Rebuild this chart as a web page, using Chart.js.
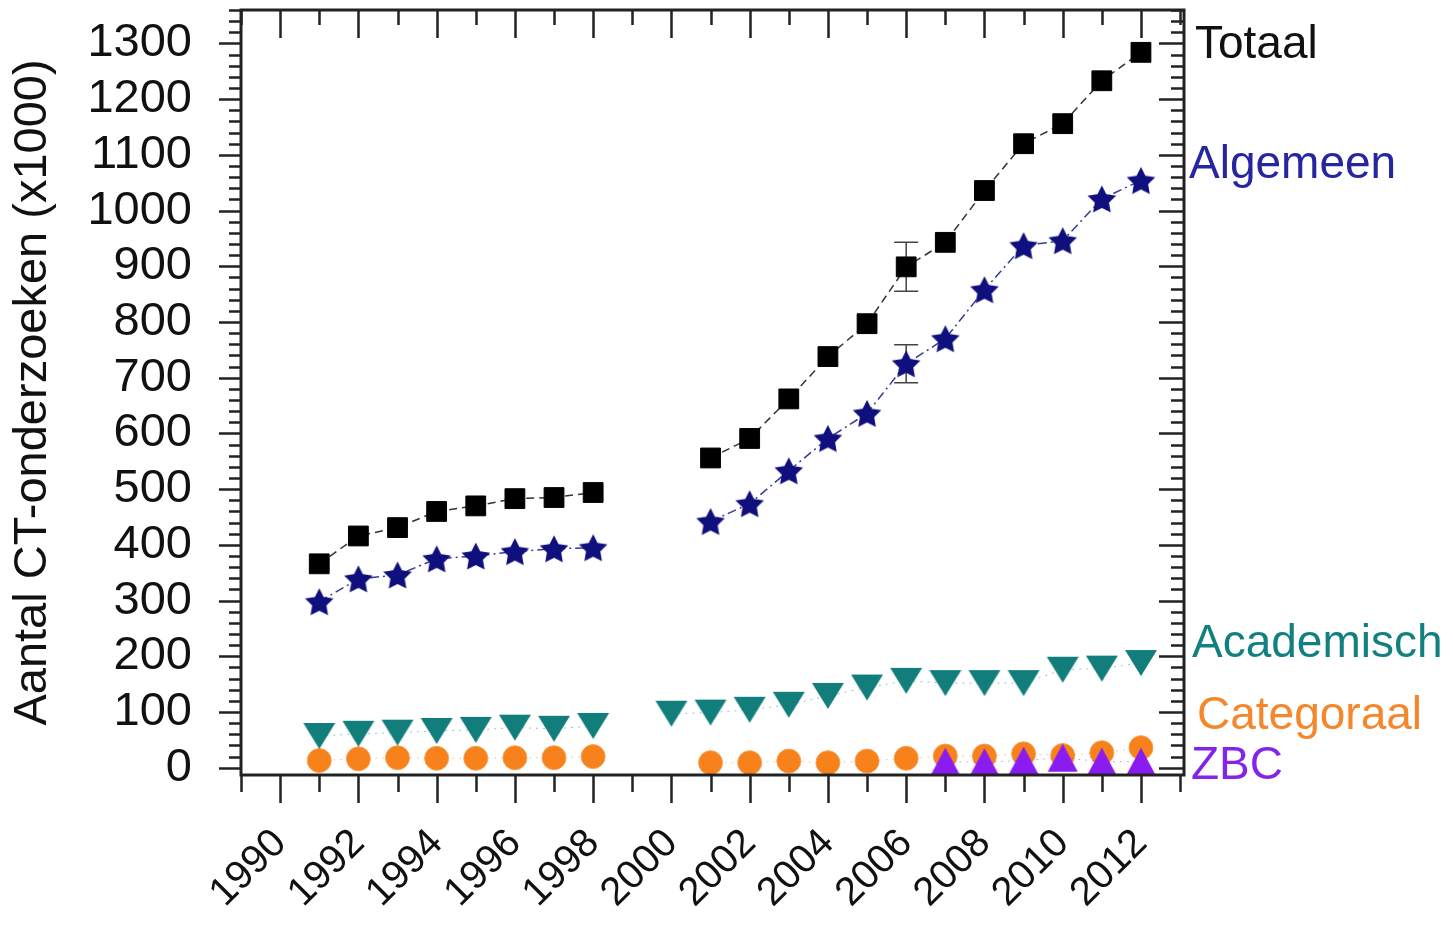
<!DOCTYPE html>
<html>
<head>
<meta charset="utf-8">
<script src="https://cdn.jsdelivr.net/npm/chart.js@4.4.0/dist/chart.umd.min.js"></script>
<style>
  body { margin: 0; background: #fff; }
  #wrap { width: 1453px; height: 929px; }
</style>
</head>
<body>
<div id="wrap"><canvas id="grafico" width="1453" height="929"></canvas></div>
<script>
// jaren 1991 t/m 2012
var jaren      = [1991, 1992, 1993, 1994, 1995, 1996, 1997, 1998, 1999, 2000, 2001, 2002, 2003, 2004, 2005, 2006, 2007, 2008, 2009, 2010, 2011, 2012];
var totaal     = [366, 416, 431, 460, 470, 483, 485, 494, null, null, 556, 591, 662, 738, 797, 899, 943, 1036, 1120, 1156, 1233, 1284];
var algemeen   = [298, 339, 346, 375, 380, 388, 393, 395, null, null, 442, 474, 533, 591, 636, 725, 770, 858, 937, 946, 1021, 1054];
var academisch = [57, 61, 63, 66, 68, 72, 70, 75, null, 97, 99, 104, 113, 129, 144, 156, 152, 152, 152, 176, 178, 188];
var categoraal = [13, 16, 18, 17, 17, 18, 18, 20, null, null, 9, 9, 12, 9, 12, 17, 21, 21, 25, 22, 27, 36];
var zbc        = [null, null, null, null, null, null, null, null, null, null, null, null, null, null, null, null, 11, 10, 13, 18, 11, 11];
// foutmarges (alleen 2006)
var foutTotaal   = [null, null, null, null, null, null, null, null, null, null, null, null, null, null, null, 44, null, null, null, null, null, null];
var foutAlgemeen = [null, null, null, null, null, null, null, null, null, null, null, null, null, null, null, 34, null, null, null, null, null, null];

var jaarTicks = [1990, 1992, 1994, 1996, 1998, 2000, 2002, 2004, 2006, 2008, 2010, 2012];
var yTicks = [0, 100, 200, 300, 400, 500, 600, 700, 800, 900, 1000, 1100, 1200, 1300];

var FONT = 'Arial, "Liberation Sans", sans-serif';

function punten(waarden) {
  return jaren.map(function(j, i) { return { x: j, y: waarden[i] }; });
}

// markers als canvas
function maakSter(kleur, r) {
  var s = Math.ceil(r * 2 + 2);
  var c = document.createElement('canvas');
  c.width = s; c.height = s;
  var ctx = c.getContext('2d');
  var cy = s / 2 + r * 0.095;
  ctx.fillStyle = kleur;
  ctx.beginPath();
  for (var i = 0; i < 10; i++) {
    var rad = i % 2 ? r * 0.5 : r;
    var a = -Math.PI / 2 + i * Math.PI / 5;
    ctx.lineTo(s / 2 + rad * Math.cos(a), cy + rad * Math.sin(a));
  }
  ctx.closePath();
  ctx.fill();
  return c;
}

function maakDriehoek(kleur, b, h, omlaag) {
  var c = document.createElement('canvas');
  c.width = b + 2; c.height = h + 2;
  var ctx = c.getContext('2d');
  ctx.fillStyle = kleur;
  ctx.beginPath();
  if (omlaag) {
    ctx.moveTo(1, 1); ctx.lineTo(b + 1, 1); ctx.lineTo(b / 2 + 1, h + 1);
  } else {
    ctx.moveTo(1, h + 1); ctx.lineTo(b + 1, h + 1); ctx.lineTo(b / 2 + 1, 1);
  }
  ctx.closePath();
  ctx.fill();
  return c;
}

var labelsRechts = [
  { tekst: 'Totaal',     waarde: 1297, kleur: '#111111', dx: 11 },
  { tekst: 'Algemeen',   waarde: 1082, kleur: '#2626a0', dx: 5 },
  { tekst: 'Academisch', waarde: 222,  kleur: '#138080', dx: 8 },
  { tekst: 'Categoraal', waarde: 92,   kleur: '#f5862a', dx: 13 },
  { tekst: 'ZBC',        waarde: 3,    kleur: '#8424e6', dx: 7 }
];

var kaderPlugin = {
  id: 'kader',
  beforeDatasetsDraw: function(chart) {
    var xs = chart.scales.x, ys = chart.scales.y, ctx = chart.ctx;
    var reeksen = [[totaal, foutTotaal], [algemeen, foutAlgemeen]];
    ctx.save();
    ctx.strokeStyle = '#444';
    ctx.lineWidth = 1.5;
    reeksen.forEach(function(r) {
      r[1].forEach(function(f, i) {
        if (f == null) return;
        var x = xs.getPixelForValue(jaren[i]);
        var y1 = ys.getPixelForValue(r[0][i] + f);
        var y2 = ys.getPixelForValue(r[0][i] - f);
        ctx.beginPath();
        ctx.moveTo(x, y1); ctx.lineTo(x, y2);
        ctx.moveTo(x - 12, y1); ctx.lineTo(x + 12, y1);
        ctx.moveTo(x - 12, y2); ctx.lineTo(x + 12, y2);
        ctx.stroke();
      });
    });
    ctx.restore();
  },
  afterDraw: function(chart) {
    var xs = chart.scales.x, ys = chart.scales.y, ctx = chart.ctx;
    var a = chart.chartArea;
    ctx.save();
    ctx.strokeStyle = '#222';
    ctx.lineWidth = 3;
    ctx.strokeRect(a.left, a.top, a.right - a.left, a.bottom - a.top);
    ctx.lineWidth = 2.5;
    ctx.beginPath();
    // y ticks: links naar buiten, rechts naar binnen
    for (var v = 0; v <= ys.max; v += 20) {
      var y = Math.round(ys.getPixelForValue(v)) + 0.5;
      var groot = v % 100 === 0;
      ctx.moveTo(a.left, y); ctx.lineTo(a.left - (groot ? 22 : 12), y);
      ctx.moveTo(a.right, y); ctx.lineTo(a.right - (groot ? 25 : 13), y);
    }
    // x ticks: onder naar buiten, boven naar binnen
    for (var j = 1989; j <= xs.max; j++) {
      var x = Math.round(xs.getPixelForValue(j)) + 0.5;
      var gr = j % 2 === 0;
      ctx.moveTo(x, a.bottom); ctx.lineTo(x, a.bottom + (gr ? 28 : 17));
      ctx.moveTo(x, a.top); ctx.lineTo(x, a.top + (gr ? 28 : 15));
    }
    ctx.stroke();
    // labels rechts
    ctx.font = '46px ' + FONT;
    ctx.textBaseline = 'middle';
    ctx.textAlign = 'left';
    labelsRechts.forEach(function(l) {
      ctx.fillStyle = l.kleur;
      ctx.fillText(l.tekst, a.right + l.dx, ys.getPixelForValue(l.waarde));
    });
    ctx.restore();
  }
};

var ctx = document.getElementById('grafico');
var grafiek = new Chart(ctx, {
  type: 'line',
  data: {
    datasets: [
      {
        label: 'Totaal',
        data: punten(totaal),
        borderColor: '#333333',
        borderWidth: 1.5,
        borderDash: [8, 5],
        pointStyle: 'rect',
        pointRadius: 14,
        pointBackgroundColor: '#000000',
        pointBorderColor: '#000000',
        pointBorderWidth: 1
      },
      {
        label: 'Algemeen',
        data: punten(algemeen),
        borderColor: '#3a3a98',
        borderWidth: 1.5,
        borderDash: [9, 4, 2, 4],
        pointStyle: maakSter('#0f0f7d', 15),
        pointRadius: 14
      },
      {
        label: 'ZBC',
        data: punten(zbc),
        borderColor: 'rgba(132,36,230,0.4)',
        borderWidth: 1,
        borderDash: [2, 5],
        pointStyle: maakDriehoek('#8a1cf0', 30, 28, false),
        pointRadius: 14
      },
      {
        label: 'Academisch',
        data: punten(academisch),
        borderColor: 'rgba(19,128,128,0.45)',
        borderWidth: 1,
        borderDash: [2, 5],
        pointStyle: maakDriehoek('#127e7c', 32, 26, true),
        pointRadius: 14
      },
      {
        label: 'Categoraal',
        data: punten(categoraal),
        borderColor: 'rgba(245,130,32,0.45)',
        borderWidth: 1,
        borderDash: [2, 5],
        pointStyle: 'circle',
        pointRadius: 12,
        pointBackgroundColor: '#f7821c',
        pointBorderColor: '#f9a050',
        pointBorderWidth: 1
      }
    ]
  },
  options: {
    responsive: false,
    animation: false,
    events: [],
    spanGaps: false,
    layout: { autoPadding: false, padding: { top: 10, right: 269, left: 0, bottom: 0 } },
    plugins: {
      legend: { display: false },
      tooltip: { enabled: false }
    },
    scales: {
      x: {
        type: 'linear',
        min: 1989,
        max: 2013.1,
        grid: { display: false, drawTicks: false },
        border: { display: false },
        afterBuildTicks: function(s) { s.ticks = jaarTicks.map(function(v) { return { value: v }; }); },
        afterFit: function(s) {
          s.height = 154;
          s.paddingLeft = 0; s.paddingRight = 0; s.paddingTop = 0; s.paddingBottom = 0;
        },
        ticks: {
          autoSkip: false,
          minRotation: 45,
          maxRotation: 45,
          padding: 45,
          color: '#111',
          font: { family: FONT, size: 40 },
          callback: function(v) { return String(v); }
        }
      },
      y: {
        type: 'linear',
        min: -13,
        max: 1360,
        grid: { display: false, drawTicks: false },
        border: { display: false },
        afterBuildTicks: function(s) { s.ticks = yTicks.map(function(v) { return { value: v }; }); },
        afterFit: function(s) {
          s.width = 241;
          s.paddingLeft = 0; s.paddingRight = 0; s.paddingTop = 0; s.paddingBottom = 0;
        },
        title: {
          display: true,
          text: 'Aantal CT-onderzoeken (x1000)',
          color: '#111',
          font: { family: FONT, size: 47 },
          padding: { top: 5, bottom: 0 }
        },
        ticks: {
          autoSkip: false,
          padding: 49,
          color: '#111',
          font: { family: FONT, size: 47 },
          callback: function(v) { return String(v); }
        }
      }
    }
  },
  plugins: [kaderPlugin]
});
</script>
</body>
</html>
